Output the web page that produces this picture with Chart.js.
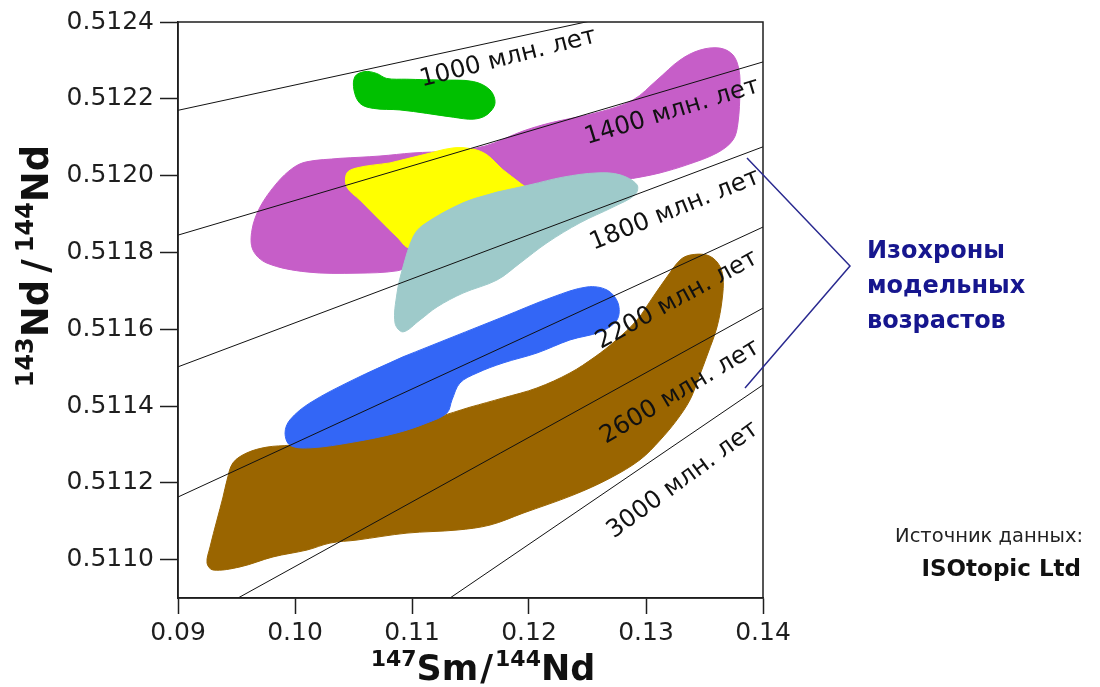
<!DOCTYPE html>
<html>
<head>
<meta charset="utf-8">
<title>143Nd/144Nd vs 147Sm/144Nd</title>
<script src="https://cdn.jsdelivr.net/npm/chart.js@4.4.1/dist/chart.umd.min.js"></script>
<style>
  html, body { margin: 0; padding: 0; background: #fff; }
  #wrap { width: 1100px; height: 687px; }
</style>
</head>
<body>
<div id="wrap"><canvas id="ndChart" width="1100" height="687"></canvas></div>
<script>
// --- data ---
const xTicks = [0.09, 0.10, 0.11, 0.12, 0.13, 0.14];
const yTicks = [0.5110, 0.5112, 0.5114, 0.5116, 0.5118, 0.5120, 0.5122, 0.5124];

// model age isochrons (млн. лет), each one a straight segment
const isoAges = [1000, 1400, 1800, 2200, 2600, 3000];
const isoStartX = [0.09, 0.09, 0.09, 0.09, 0.09513, 0.11325];
const isoStartY = [0.51217, 0.511845, 0.511502, 0.511163, 0.5109, 0.5109];
const isoEndX = [0.14, 0.14, 0.14, 0.14, 0.14, 0.14];
const isoEndY = [0.51250, 0.512296, 0.512075, 0.511866, 0.511655, 0.511455];
// where the age labels sit (centre of text)
const labelX = [0.11821, 0.13222, 0.13248, 0.13265, 0.13291, 0.13316];
const labelY = [0.512306, 0.512166, 0.511910, 0.511676, 0.511436, 0.511207];

// field outlines
const greenX = [0.11239, 0.11524, 0.11667, 0.11709, 0.11638, 0.11524, 0.11353, 0.11126, 0.10897, 0.10669, 0.10556, 0.10504, 0.10513, 0.10598, 0.10698, 0.10784, 0.10955];
const greenY = [0.512249, 0.512245, 0.512223, 0.512188, 0.512158, 0.512147, 0.512152, 0.512162, 0.512171, 0.512175, 0.512188, 0.512223, 0.512258, 0.512271, 0.512266, 0.512253, 0.512251];

const magentaX = [0.10385, 0.10726, 0.11009, 0.11325, 0.11624, 0.11949, 0.12179, 0.12607, 0.12889, 0.13094, 0.13291, 0.13462, 0.13632, 0.13744, 0.13795, 0.13803, 0.13786, 0.13744, 0.13607, 0.13350, 0.13120, 0.12949, 0.12692, 0.12265, 0.11752, 0.11325, 0.10983, 0.10872, 0.10530, 0.10103, 0.09761, 0.09641, 0.09632, 0.09701, 0.09846, 0.09983, 0.10100];
const magentaY = [0.512045, 0.512051, 0.512059, 0.512064, 0.512077, 0.512116, 0.512137, 0.512166, 0.512197, 0.512249, 0.512301, 0.512327, 0.512332, 0.512314, 0.512275, 0.512223, 0.512137, 0.512093, 0.512059, 0.512028, 0.512007, 0.511996, 0.511983, 0.511963, 0.511923, 0.511845, 0.511767, 0.511752, 0.511746, 0.511749, 0.511772, 0.511806, 0.511858, 0.511918, 0.511981, 0.512020, 0.512036];

const yellowX = [0.10812, 0.11094, 0.11350, 0.11521, 0.11641, 0.11778, 0.11923, 0.12009, 0.11966, 0.11581, 0.11239, 0.10983, 0.10872, 0.10726, 0.10556, 0.10444, 0.10442, 0.10527];
const yellowY = [0.512033, 0.512054, 0.512072, 0.512069, 0.512054, 0.512015, 0.511981, 0.511957, 0.511923, 0.511879, 0.511832, 0.511811, 0.511840, 0.511884, 0.511936, 0.511970, 0.512006, 0.512020];

const tealX = [0.11726, 0.12009, 0.12291, 0.12581, 0.12778, 0.12923, 0.12906, 0.12718, 0.12436, 0.12154, 0.11923, 0.11726, 0.11436, 0.11214, 0.11068, 0.10923, 0.10855, 0.10872, 0.10923, 0.11009, 0.11094, 0.11436];
const tealY = [0.511957, 0.511976, 0.511996, 0.512007, 0.512002, 0.511976, 0.511950, 0.511918, 0.511877, 0.511825, 0.511772, 0.511728, 0.511694, 0.511658, 0.511624, 0.511593, 0.511616, 0.511694, 0.511762, 0.511840, 0.511871, 0.511929];

const blueX = [0.10923, 0.11350, 0.11778, 0.12205, 0.12496, 0.12667, 0.12761, 0.12752, 0.12607, 0.12350, 0.12068, 0.11778, 0.11556, 0.11410, 0.11342, 0.11299, 0.11128, 0.10872, 0.10496, 0.10128, 0.09957, 0.09915, 0.09957, 0.10128, 0.10496];
const blueY = [0.511528, 0.511580, 0.511632, 0.511684, 0.511710, 0.511702, 0.511668, 0.511624, 0.511593, 0.511572, 0.511538, 0.511512, 0.511486, 0.511460, 0.511416, 0.511382, 0.511356, 0.511330, 0.511306, 0.511291, 0.511298, 0.511330, 0.511364, 0.511408, 0.511468];

const brownX = [0.11496, 0.11778, 0.12068, 0.12350, 0.12564, 0.12735, 0.12923, 0.13060, 0.13179, 0.13291, 0.13376, 0.13521, 0.13615, 0.13658, 0.13650, 0.13607, 0.13530, 0.13444, 0.13376, 0.13265, 0.13120, 0.12949, 0.12692, 0.12376, 0.11949, 0.11667, 0.11385, 0.10957, 0.10530, 0.10299, 0.10103, 0.09812, 0.09530, 0.09299, 0.09248, 0.09274, 0.09333, 0.09385, 0.09419, 0.09470, 0.09590, 0.09761, 0.09957, 0.10299, 0.10812, 0.11214];
const brownY = [0.511397, 0.511421, 0.511447, 0.511486, 0.511528, 0.511569, 0.511624, 0.511684, 0.511736, 0.511780, 0.511793, 0.511793, 0.511772, 0.511736, 0.511676, 0.511606, 0.511538, 0.511468, 0.511416, 0.511364, 0.511311, 0.511260, 0.511212, 0.511168, 0.511121, 0.511090, 0.511077, 0.511069, 0.511051, 0.511043, 0.511025, 0.511007, 0.510981, 0.510973, 0.510991, 0.511033, 0.511103, 0.511163, 0.511207, 0.511252, 0.511278, 0.511293, 0.511298, 0.511311, 0.511343, 0.511371];

(function() {
    'use strict';

    const FONT = '"DejaVu Sans", Verdana, sans-serif';
    const INK = '#1e1e1e';
    const NAVY = '#16168e';

    // small tilt the age labels have on top of their line's slope (degrees)
    const labelTilt = [-2, -0.5, -1.5, -4, -2, -2];

    function toPoints(xs, ys) {
        const pts = xs.map(function(x, i) { return { x: x, y: ys[i] }; });
        pts.push({ x: xs[0], y: ys[0] }); // close outline
        return pts;
    }

    // bottom to top: bigger order is drawn first
    const fields = [
        { xs: magentaX, ys: magentaY, color: '#c65ec8', order: 20 },
        { xs: yellowX, ys: yellowY, color: '#ffff00', order: 19 },
        { xs: tealX, ys: tealY, color: '#9ecaca', order: 18 },
        { xs: greenX, ys: greenY, color: '#00c000', order: 17 },
        { xs: brownX, ys: brownY, color: '#9a6500', order: 16 },
        { xs: blueX, ys: blueY, color: '#3366f6', order: 15 }
    ];

    const datasets = fields.map(function(f) {
        return {
            data: toPoints(f.xs, f.ys),
            showLine: true,
            fill: 'shape',
            backgroundColor: f.color,
            borderColor: f.color,
            borderWidth: 1,
            pointRadius: 0,
            tension: 0.35,
            order: f.order
        };
    });

    isoAges.forEach(function(age, i) {
        datasets.push({
            data: [{ x: isoStartX[i], y: isoStartY[i] }, { x: isoEndX[i], y: isoEndY[i] }],
            showLine: true,
            fill: false,
            borderColor: '#111',
            borderWidth: 1,
            pointRadius: 0,
            tension: 0,
            order: 0
        });
    });

    // text with superscripts, centred on cx
    function drawRich(ctx, parts, cx, baseY, mainPx, supPx) {
        let total = 0;
        parts.forEach(function(p) {
            ctx.font = 'bold ' + (p.sup ? supPx : mainPx) + 'px ' + FONT;
            p.w = ctx.measureText(p.t).width + 2 * (p.pad || 0);
            total += p.w;
        });
        let x = cx - total / 2;
        ctx.textAlign = 'left';
        ctx.textBaseline = 'alphabetic';
        parts.forEach(function(p) {
            ctx.font = 'bold ' + (p.sup ? supPx : mainPx) + 'px ' + FONT;
            ctx.fillText(p.t, x + (p.pad || 0), p.sup ? baseY - mainPx * 0.40 : baseY);
            x += p.w;
        });
    }

    const isoLabels = {
        id: 'isoLabels',
        afterDatasetsDraw: function(chart) {
            const ctx = chart.ctx;
            const xs = chart.scales.x, ys = chart.scales.y;
            ctx.save();
            ctx.fillStyle = '#111';
            ctx.font = '24.5px ' + FONT;
            ctx.textAlign = 'center';
            ctx.textBaseline = 'middle';
            isoAges.forEach(function(age, i) {
                const x1 = xs.getPixelForValue(isoStartX[i]), y1 = ys.getPixelForValue(isoStartY[i]);
                const x2 = xs.getPixelForValue(isoEndX[i]), y2 = ys.getPixelForValue(isoEndY[i]);
                const ang = Math.atan2(y2 - y1, x2 - x1) + labelTilt[i] * Math.PI / 180;
                ctx.save();
                ctx.translate(xs.getPixelForValue(labelX[i]), ys.getPixelForValue(labelY[i]));
                ctx.rotate(ang);
                ctx.fillText(age + ' млн. лет', 0, 0);
                ctx.restore();
            });
            ctx.restore();
        }
    };

    const decorations = {
        id: 'decorations',
        afterDraw: function(chart) {
            const ctx = chart.ctx;
            const a = chart.chartArea;
            ctx.save();

            // frame round the plot
            ctx.strokeStyle = INK;
            ctx.lineWidth = 1.5;
            ctx.strokeRect(a.left, a.top, a.right - a.left, a.bottom - a.top);

            // axis titles
            ctx.fillStyle = '#111';
            drawRich(ctx, [{ t: '147', sup: true }, { t: 'Sm' }, { t: '/', pad: 2 }, { t: '144', sup: true }, { t: 'Nd' }],
                483, 680, 35, 22);
            ctx.save();
            ctx.translate(48, 266);
            ctx.rotate(-Math.PI / 2);
            drawRich(ctx, [{ t: '143', sup: true }, { t: 'Nd' }, { t: '/', pad: 7 }, { t: '144', sup: true }, { t: 'Nd' }],
                0, 0, 37, 24);
            ctx.restore();

            // bracket pointing at the isochrons
            ctx.strokeStyle = '#2a2a90';
            ctx.lineWidth = 1.5;
            ctx.beginPath();
            ctx.moveTo(a.right - 16, 158);
            ctx.lineTo(850, 266);
            ctx.lineTo(a.right - 18, 388);
            ctx.stroke();

            ctx.fillStyle = NAVY;
            ctx.font = 'bold 24px ' + FONT;
            ctx.textAlign = 'left';
            ctx.textBaseline = 'middle';
            ctx.fillText('Изохроны', 867, 252);
            ctx.fillText('модельных', 867, 287);
            ctx.fillText('возрастов', 867, 322);

            // source
            ctx.textAlign = 'right';
            ctx.fillStyle = '#222';
            ctx.font = '19.5px ' + FONT;
            ctx.fillText('Источник данных:', 1083, 537);
            ctx.fillStyle = '#111';
            ctx.font = 'bold 23px ' + FONT;
            ctx.fillText('ISOtopic Ltd', 1081, 570);

            ctx.restore();
        }
    };

    const tickFont = { family: FONT, size: 25 };

    new Chart(document.getElementById('ndChart').getContext('2d'), {
        type: 'scatter',
        data: { datasets: datasets },
        options: {
            responsive: false,
            animation: false,
            events: [],
            layout: { padding: { top: 22, right: 337, left: 0, bottom: 0 } },
            plugins: {
                legend: { display: false },
                tooltip: { enabled: false }
            },
            scales: {
                x: {
                    type: 'linear',
                    min: 0.09,
                    max: 0.14,
                    afterBuildTicks: function(scale) {
                        scale.ticks = xTicks.map(function(v) { return { value: v }; });
                    },
                    afterFit: function(scale) { scale.height = 89; },
                    ticks: {
                        autoSkip: false,
                        maxRotation: 0,
                        padding: 4,
                        color: INK,
                        font: tickFont,
                        callback: function(v) { return Number(v).toFixed(2); }
                    },
                    grid: { drawOnChartArea: false, drawTicks: true, tickLength: 16, tickColor: INK, tickWidth: 1.5 },
                    border: { display: true, color: INK, width: 1.5 }
                },
                y: {
                    type: 'linear',
                    min: 0.5109,
                    max: 0.5124,
                    afterBuildTicks: function(scale) {
                        scale.ticks = yTicks.map(function(v) { return { value: v }; });
                    },
                    afterFit: function(scale) { scale.width = 178; },
                    ticks: {
                        autoSkip: false,
                        padding: 6,
                        color: INK,
                        font: tickFont,
                        callback: function(v) { return Number(v).toFixed(4); }
                    },
                    grid: { drawOnChartArea: false, drawTicks: true, tickLength: 18, tickColor: INK, tickWidth: 1.5 },
                    border: { display: true, color: INK, width: 1.5 }
                }
            }
        },
        plugins: [isoLabels, decorations]
    });
})();
</script>
</body>
</html>
